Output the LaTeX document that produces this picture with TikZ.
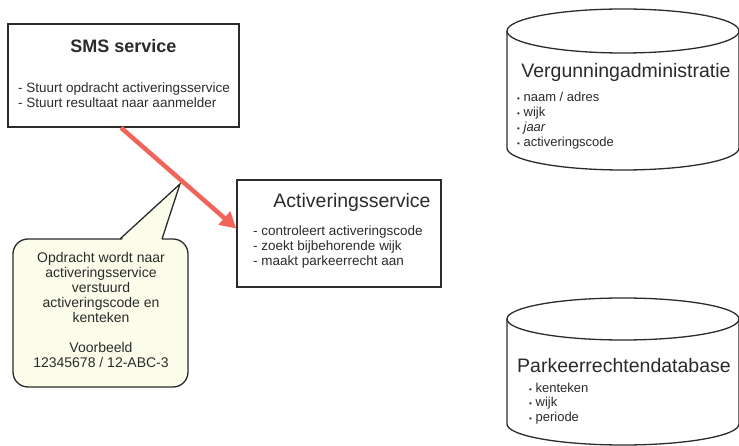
\documentclass[tikz,border=0pt]{standalone}
\usepackage{fontspec}
\setmainfont{Liberation Sans}
\usetikzlibrary{positioning,arrows.meta}

\definecolor{inkgray}{HTML}{2B2B2B}
\definecolor{arrowred}{HTML}{F0645A}
\definecolor{notefill}{HTML}{FCFCEA}

\newcommand{\itm}{{\footnotesize\textbullet}\ }

\tikzset{
  box/.style={draw=inkgray, line width=1.4pt, rectangle, inner sep=0pt},
  boxtitle/.style={inner sep=0pt, text=inkgray, font=\fontsize{19.5}{22}\selectfont},
  boxlist/.style={inner sep=0pt, anchor=west, align=left, text=inkgray, font=\fontsize{13.5}{14.5}\selectfont},
  dblist/.style={boxlist, font=\fontsize{13}{15}\selectfont},
  dbline/.style={draw=inkgray, line width=1.3pt},
  notebox/.style={draw=inkgray, fill=notefill, line width=1.3pt, rounded corners=15pt, inner sep=0pt},
  notetext/.style={align=center, inner sep=0pt, text=inkgray, font=\fontsize{14}{15}\selectfont},
  flow/.style={draw=arrowred, line width=4.5pt, -{Triangle[length=16pt,width=17pt]}},
}

\begin{document}
\begin{tikzpicture}[x=1pt,y=-1pt]
\useasboundingbox (0,0) rectangle (739,446);
% boxes
 \node[box, minimum width=231pt, minimum height=103pt] (sms) at (123.5,75.5) {};
 \node[box, minimum width=204pt, minimum height=107pt] (act) at (339,233.5) {};

 \node[boxtitle, font=\bfseries\fontsize{18}{21}\selectfont, below=15.5pt of sms.north] (smstitle) {SMS service};%
 \node[boxlist] (smslist) at (18,95) {- Stuurt opdracht activeringsservice\\- Stuurt resultaat naar aanmelder};%
 \node[boxtitle] (acttitle) at (352,202) {Activeringsservice};%
 \node[boxlist, font=\fontsize{13.5}{15}\selectfont] (actlist) at (253,247) {- controleert activeringscode\\- zoekt bijbehorende wijk\\- maakt parkeerrecht aan};%

% databases
 \draw[dbline, fill=white] (507,31) -- (507,148) arc[start angle=180, end angle=360, x radius=116pt, y radius=22pt] -- (739,31);
 \draw[dbline] (623,31) ellipse [x radius=116pt, y radius=22pt];
 \node[boxtitle] (vergtitle) at (626,72) {Vergunningadministratie};%
 \node[dblist] (verglist) at (517,121) {\itm naam / adres\\\itm wijk\\\itm\textit{jaar}\\\itm activeringscode};%

 \draw[dbline, fill=white] (507,319) -- (507,424) arc[start angle=180, end angle=360, x radius=116pt, y radius=21pt] -- (739,319);
 \draw[dbline] (623,319) ellipse [x radius=116pt, y radius=21pt];
 \node[boxtitle] (parktitle) at (624,366) {Parkeerrechtendatabase};%
 \node[dblist, font=\fontsize{13}{14.5}\selectfont] (parklist) at (529,403.5) {\itm kenteken\\\itm wijk\\\itm periode};%

% callout
 \node[notebox, minimum width=175pt, minimum height=148pt] (note) at (100.5,313) {};
 \coordinate (tip) at (180,184);
 \fill[notefill] (120.5,241) -- (tip) -- (161.5,241) -- cycle;
 \draw[dbline, line join=miter] (120,239) -- (tip) -- (162,239);
 \node[notetext] (notetxt) at (101,310) {Opdracht wordt naar\\activeringsservice\\verstuurd\\activeringscode en\\kenteken\\[15pt]Voorbeeld\\12345678 / 12-ABC-3};%

% edges
 \draw[flow] ([xshift=-2.5pt]sms.south) -- ([yshift=5pt]act.west);
\end{tikzpicture}
\end{document}
